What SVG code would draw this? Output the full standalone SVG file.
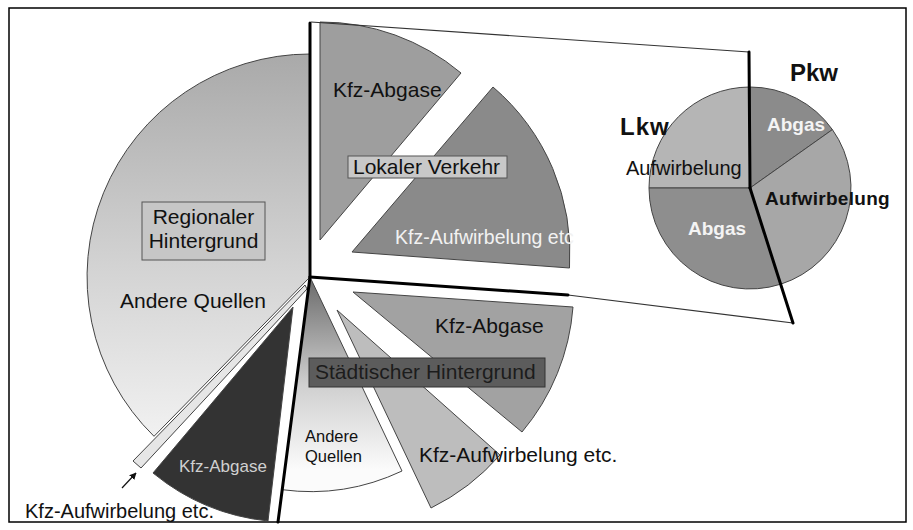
<svg xmlns="http://www.w3.org/2000/svg" width="913" height="530" viewBox="0 0 913 530">
<defs>
<linearGradient id="gReg" gradientUnits="userSpaceOnUse" x1="0" y1="53" x2="0" y2="470">
<stop offset="0" stop-color="#a9a9a9"/>
<stop offset="0.5" stop-color="#d2d2d2"/>
<stop offset="1" stop-color="#f7f7f7"/>
</linearGradient>
<linearGradient id="gUrb" gradientUnits="userSpaceOnUse" x1="0" y1="280" x2="0" y2="470">
<stop offset="0" stop-color="#6c6c6c"/>
<stop offset="0.55" stop-color="#cfcfcf"/>
<stop offset="1" stop-color="#fbfbfb"/>
</linearGradient>
<marker id="arr" viewBox="0 0 10 10" refX="9" refY="5" markerWidth="7" markerHeight="7" orient="auto" markerUnits="userSpaceOnUse">
<path d="M0,0 L10,5 L0,10 Z" fill="#111"/>
</marker>
</defs>
<style>
.sl{stroke:#444;stroke-width:1}
.t{font-family:"Liberation Sans",Arial,sans-serif;fill:#111}
.b{font-weight:bold}
.thick{stroke:#000;stroke-width:3;fill:none;stroke-linecap:round}
.thin{stroke:#333;stroke-width:1.2;fill:none}
.box{stroke:#555;stroke-width:1}
</style>
<rect x="9" y="8" width="897" height="514" fill="#fff" stroke="#000" stroke-width="1.5"/>

<g id="regional">
<path class="sl" d="M310,277 L310,54 A223,223 0 0,0 154,436.3 Z" fill="url(#gReg)"/>
<path class="sl" d="M305,285 L133,461 L141,468 L307,289 Z" fill="#e6e6e6"/>
<path class="sl" d="M293,307 L153,473 A217,217 0 0,0 268,521 Z" fill="#333"/>
<rect class="box" x="142" y="202" width="123" height="58" fill="#c6c6c6"/>
<text class="t" x="203.5" y="224" font-size="21" text-anchor="middle">Regionaler</text>
<text class="t" x="203.5" y="248" font-size="21" text-anchor="middle">Hintergrund</text>
<text class="t" x="120" y="308" font-size="21">Andere Quellen</text>
<text class="t" x="179" y="472" font-size="17" style="fill:#d0d0d0">Kfz-Abgase</text>
<text class="t" x="25" y="518" font-size="20">Kfz-Aufwirbelung etc.</text>
</g>

<g id="lokal">
<path class="sl" d="M320,240 L461,73 A218,218 0 0,0 320,22 Z" fill="#9e9e9e"/>
<path class="sl" d="M352,252 L569.5,268 A219,219 0 0,0 493,87 Z" fill="#8a8a8a"/>
<text class="t" x="333" y="97" font-size="21">Kfz-Abgase</text>
<rect class="box" x="348" y="156" width="159" height="22" fill="#c8c8c8"/>
<text class="t" x="353" y="174" font-size="21">Lokaler Verkehr</text>
<text class="t" x="395" y="244" font-size="19.5" style="fill:#f2f2f2">Kfz-Aufwirbelung etc</text>
</g>

<g id="staedtisch">
<path class="sl" d="M310,277 L282.2,489.7 A214.5,214.5 0 0,0 402,471 Z" fill="url(#gUrb)"/>
<path class="sl" d="M337,310 L431,508 A219,219 0 0,0 500,455 Z" fill="#bdbdbd"/>
<path class="sl" d="M353,292 L522,432 A220,220 0 0,0 573,307 Z" fill="#a2a2a2"/>
<text class="t" x="435" y="333" font-size="21">Kfz-Abgase</text>
<rect x="309" y="358" width="236" height="29" fill="#5c5c5c" stroke="#333" stroke-width="1"/>
<text class="t" x="315" y="379" font-size="21" style="fill:#1c1c1c">Städtischer Hintergrund</text>
<text class="t" x="305" y="442" font-size="16.5">Andere</text>
<text class="t" x="305" y="462" font-size="16.5">Quellen</text>
<text class="t" x="419" y="462" font-size="21">Kfz-Aufwirbelung etc.</text>
</g>

<g id="kfz-pie">
<path class="sl" d="M750,188 L649,188 A101,101 0 0,1 750,87 Z" fill="#b5b5b5"/>
<path class="sl" d="M750,188 L750,87 A101,101 0 0,1 832.4,129.6 Z" fill="#8b8b8b"/>
<path class="sl" d="M750,188 L832.4,129.6 A101,101 0 0,1 780.7,284.2 Z" fill="#a7a7a7"/>
<path class="sl" d="M750,188 L780.7,284.2 A101,101 0 0,1 649,188 Z" fill="#8e8e8e"/>
<text class="t b" x="790" y="81" font-size="24">Pkw</text>
<text class="t b" x="620" y="135" font-size="24" letter-spacing="1">Lkw</text>
<text class="t" x="626" y="175" font-size="20">Aufwirbelung</text>
<text class="t b" x="767" y="131" font-size="19" style="fill:#f4f4f4">Abgas</text>
<text class="t b" x="765" y="205" font-size="19" letter-spacing="0.3">Aufwirbelung</text>
<text class="t b" x="688" y="235" font-size="19" style="fill:#f4f4f4">Abgas</text>
</g>

<g id="connectors">
<line class="thin" x1="311" y1="22" x2="749" y2="52"/>
<line class="thin" x1="568" y1="295" x2="793" y2="323"/>
<line class="thick" x1="310" y1="23" x2="310" y2="277"/>
<line class="thick" x1="310" y1="277" x2="568" y2="295"/>
<line class="thick" x1="310" y1="277" x2="278" y2="522"/>
<line class="thick" x1="749" y1="52" x2="750" y2="188"/>
<line class="thick" x1="750" y1="188" x2="793" y2="323"/>
<line x1="122" y1="488" x2="136" y2="473" stroke="#111" stroke-width="1.2" marker-end="url(#arr)"/>
</g>
</svg>
